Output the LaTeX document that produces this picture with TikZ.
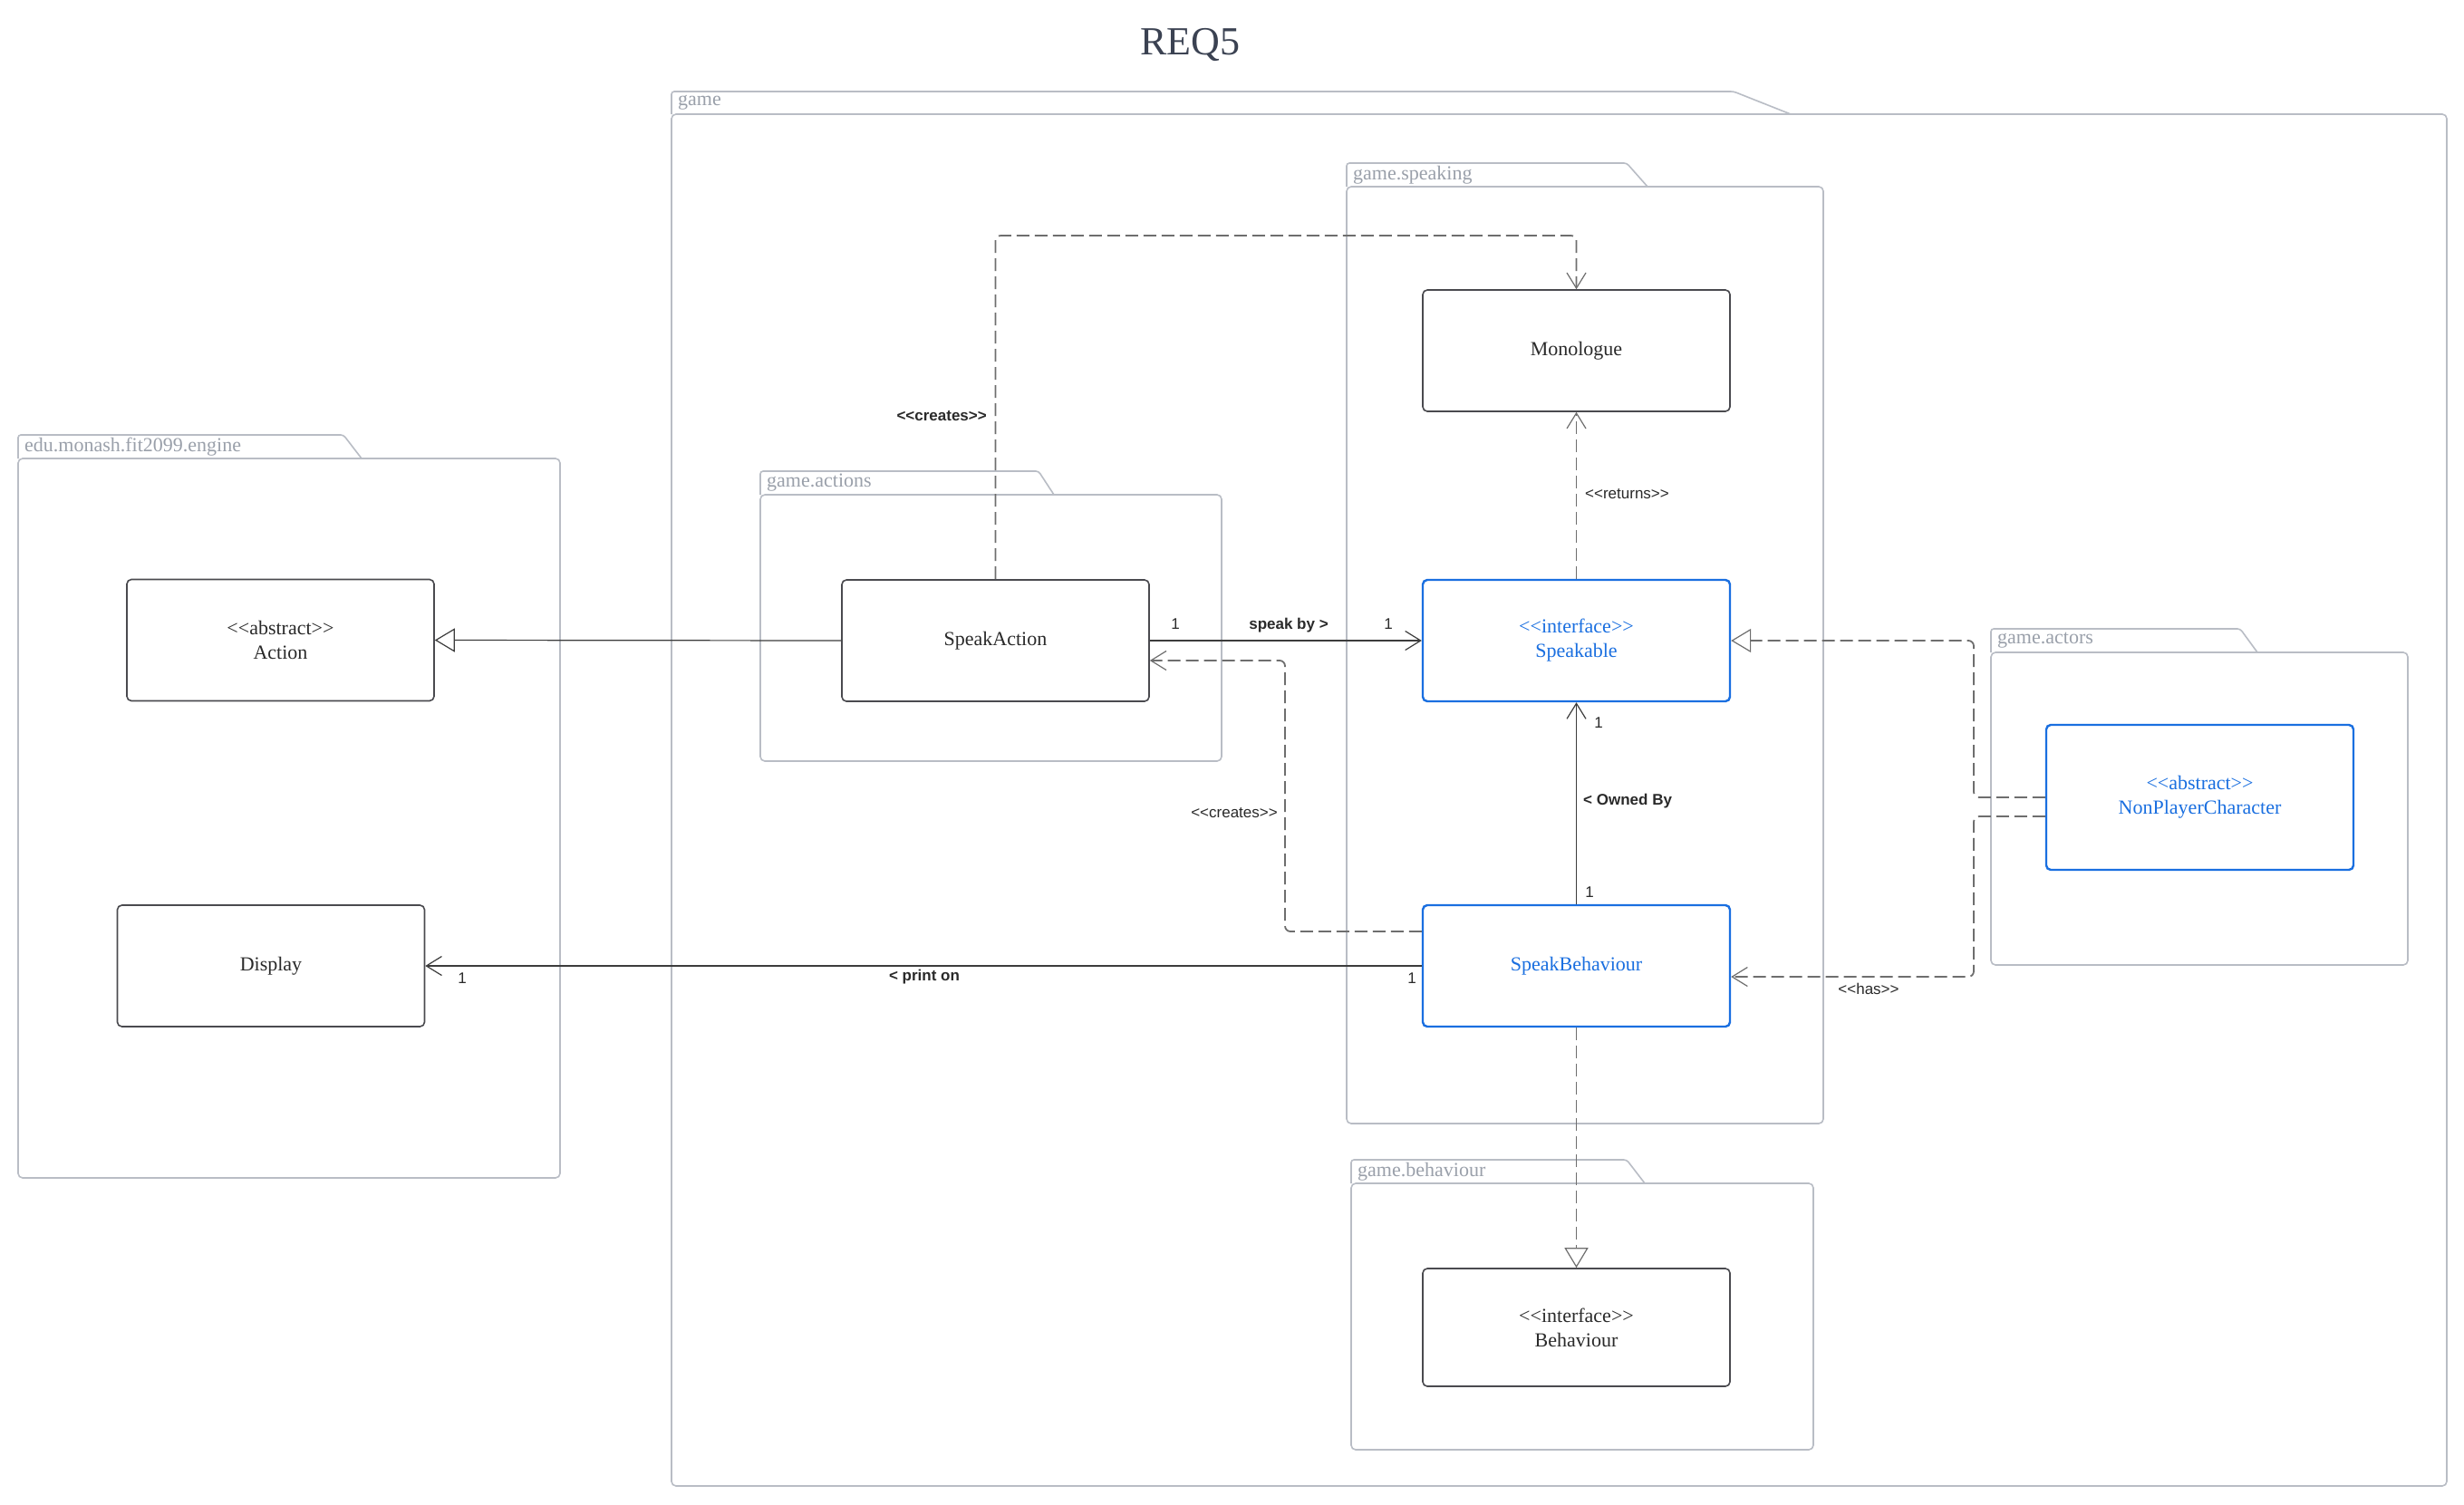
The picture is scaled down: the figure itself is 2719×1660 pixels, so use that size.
\documentclass[tikz,border=0pt]{standalone}
\usepackage{fontspec}
\newfontfamily\lserif{Liberation Serif}
\newfontfamily\lsans{Liberation Sans}
\usetikzlibrary{arrows.meta}
\definecolor{boxgray}{HTML}{4A4A4F}
\definecolor{ublue}{HTML}{1A6FE0}
\definecolor{pkggray}{HTML}{B9BDC5}
\definecolor{pkgtext}{HTML}{9AA0AA}
\definecolor{txtdark}{HTML}{2A2A2A}
\definecolor{linegray}{HTML}{3C3C3C}
\definecolor{dashgray}{HTML}{6E6E6E}
\definecolor{titlecol}{HTML}{3B4252}
\newcommand{\pkgbox}[9]{%
  \draw[pkgline, rounded corners=5pt] (#1,#3) rectangle (#6,#7);
  \draw[pkgline, rounded corners=3pt] (#1,#3) -- (#1,#2) -- (#4,#2) -- (#5,#3);
  \node[pkglabel] (#9) at (#1+7,{(#2+#3)/2}) {#8};
}
\begin{document}
\begin{tikzpicture}[x=1pt,y=-1pt,
  cls/.style={draw=boxgray, fill=white, line width=1.6pt, rounded corners=5pt,
    minimum width=339pt, minimum height=134pt, align=center, inner sep=0pt,
    font=\lserif\fontsize{22}{27}\selectfont, text=txtdark},
  bluecls/.style={cls, draw=ublue, line width=2.4pt, text=ublue},
  pkgline/.style={draw=pkggray, line width=1.6pt},
  pkglabel/.style={font=\lserif\fontsize{22}{26}\selectfont, text=pkgtext, inner sep=0pt, anchor=west},
  lbl/.style={font=\lsans\fontsize{17}{20}\selectfont, text=txtdark, inner sep=0pt},
  blbl/.style={font=\lsans\bfseries\fontsize{17}{20}\selectfont, text=txtdark, inner sep=0pt},
  assoc/.style={draw=linegray, line width=1.2pt, -{Straight Barb[length=17pt,width=21pt,line width=1.2pt]}},
  gen/.style={draw=linegray, line width=1.2pt, -{Triangle[open,length=22pt,width=26pt,fill=white,line width=1.2pt]}},
  dep/.style={draw=dashgray, line width=1.8pt, dash pattern=on 14pt off 6pt, rounded corners=6pt,
    -{Straight Barb[length=17pt,width=21pt,line width=1.2pt]}},
  real/.style={draw=dashgray, line width=1.8pt, dash pattern=on 14pt off 6pt, rounded corners=6pt,
    -{Triangle[open,length=22pt,width=26pt,fill=white,line width=1.2pt]}}
]
\useasboundingbox (0,0) rectangle (2719,1660);
\fill[white] (0,0) rectangle (2719,1660);

\node[font=\lserif\fontsize{44}{50}\selectfont, text=titlecol] (title) at (1313,49) {REQ5};

% packages
\pkgbox{741}{101}{126}{1913}{1976}{2700}{1640}{game}{pgame}
\pkgbox{20}{480}{506}{379}{399}{618}{1300}{edu.monash.fit2099.engine}{pengine}
\pkgbox{839}{520}{546}{1146}{1163}{1348}{840}{game.actions}{pactions}
\pkgbox{1486}{180}{206}{1795}{1818}{2012}{1240}{game.speaking}{pspeaking}
\pkgbox{2197}{694}{720}{2472}{2491}{2657}{1065}{game.actors}{pactors}
\pkgbox{1491}{1280}{1306}{1795}{1815}{2001}{1600}{game.behaviour}{pbehaviour}

% classes
\node[cls] (action) at (309.5,706.5) {<<abstract>>\\Action};
\node[cls] (display) at (299,1066) {Display};
\node[cls] (speakaction) at (1098.5,707) {SpeakAction};
\node[cls] (monologue) at (1739.5,387) {Monologue};
\node[bluecls] (speakable) at (1739.5,707) {<<interface>>\\Speakable};
\node[bluecls] (speakbeh) at (1739.5,1066) {SpeakBehaviour};
\node[cls, minimum height=130pt] (behaviour) at (1739.5,1465) {<<interface>>\\Behaviour};
\node[bluecls, minimum height=160pt] (npc) at (2427.5,880) {<<abstract>>\\NonPlayerCharacter};

% bend points
\coordinate (cr) at (1420,260);
\coordinate (cb) at (1418,900);
\coordinate (cn) at (2178,800);
\coordinate (ch) at (2178,1000);

% connectors
\draw[gen] (speakaction.west) -- (action.east);
\draw[assoc] (speakaction.east) -- (speakable.west);
\draw[dep] (speakaction.north) |- (cr) -| (monologue.north);
\draw[dep] (speakable.north) -- (monologue.south);
\draw[assoc] (speakbeh.north) -- (speakable.south);
\draw[dep] ([yshift=38pt]speakbeh.west) -| (cb) |- ([yshift=-22pt]speakaction.east);
\draw[assoc] (speakbeh.west) -- (display.east);
\draw[real] (npc.west) -| (cn) |- (speakable.east);
\draw[dep] ([yshift=-21pt]npc.west) -| (ch) |- ([yshift=-12pt]speakbeh.east);
\draw[real] (speakbeh.south) -- (behaviour.north);

% labels
\node[blbl, anchor=east] (l1) at (1089,459) {<<creates>>};
\node[lbl, anchor=west] (l2) at (1749,545) {<<returns>>};
\node[lbl] (l3) at (1362,897) {<<creates>>};
\node[lbl] (l4) at (2062,1091) {<<has>>};
\node[blbl] (l5) at (1422,690) {speak by >};
\node[blbl, anchor=west] (l6) at (1747,884) {< Owned By};
\node[blbl] (l7) at (1020,1078) {< print on};
\node[lbl] (m1) at (1297,689) {1};
\node[lbl] (m2) at (1532,689) {1};
\node[lbl] (m3) at (1764,798) {1};
\node[lbl] (m4) at (1754,985) {1};
\node[lbl] (m5) at (510,1080) {1};
\node[lbl] (m6) at (1558,1080) {1};
\end{tikzpicture}
\end{document}
